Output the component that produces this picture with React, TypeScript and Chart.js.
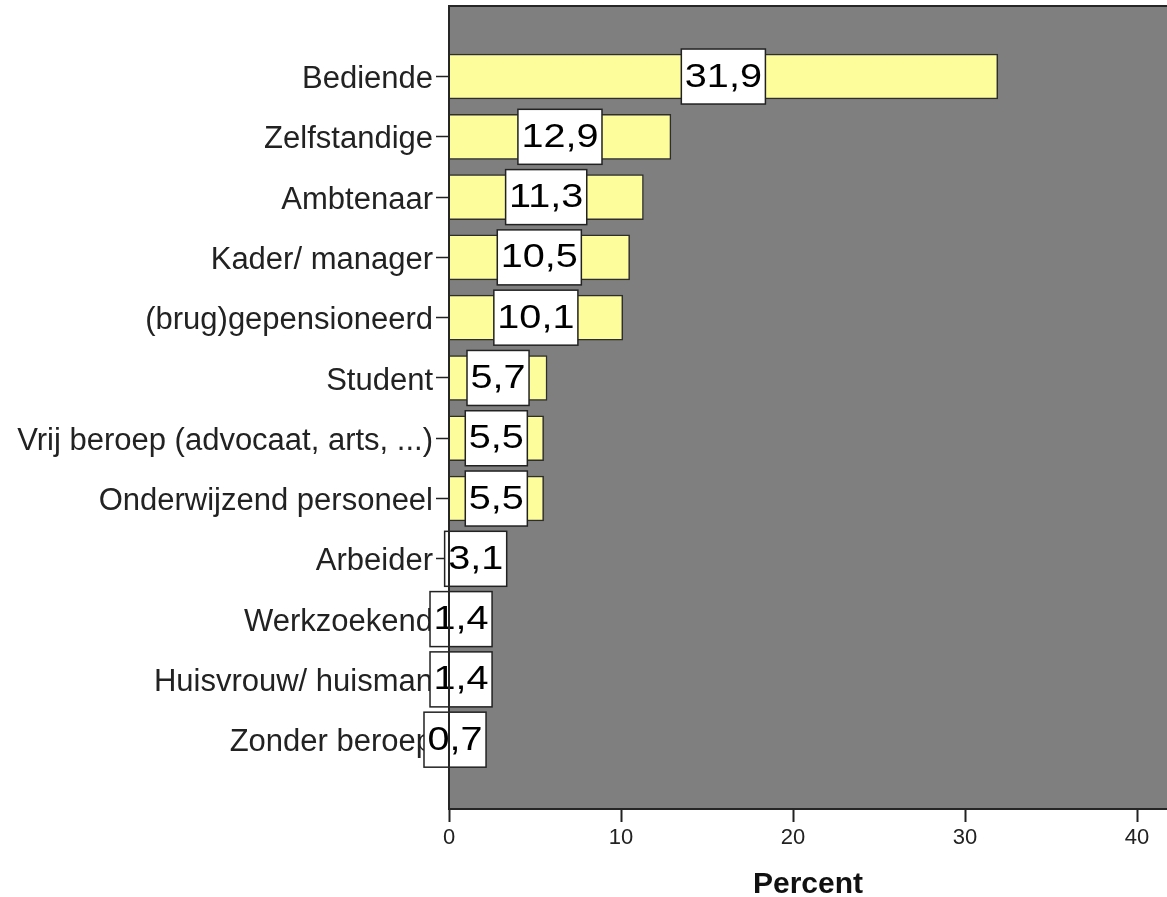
import React, { useEffect, useRef } from 'react';
import { Chart, registerables } from 'chart.js';

Chart.register(...registerables);

const categories = [
  'Bediende',
  'Zelfstandige',
  'Ambtenaar',
  'Kader/ manager',
  '(brug)gepensioneerd',
  'Student',
  'Vrij beroep (advocaat, arts, ...)',
  'Onderwijzend personeel',
  'Arbeider',
  'Werkzoekend',
  'Huisvrouw/ huisman',
  'Zonder beroep',
];
const percents = [31.9, 12.9, 11.3, 10.5, 10.1, 5.7, 5.5, 5.5, 3.1, 1.4, 1.4, 0.7];
const xTickValues = [0, 10, 20, 30, 40];
const xTitle = 'Percent';

const FONT = '"Liberation Sans", Arial, sans-serif';

const spssPlugin = {
  id: 'spssStyle',
  beforeDraw(chart: any) {
    const { ctx, chartArea } = chart;
    ctx.save();
    ctx.fillStyle = '#7f7f7f';
    ctx.fillRect(chartArea.left, chartArea.top, chartArea.right - chartArea.left, chartArea.bottom - chartArea.top);
    ctx.restore();
  },
  afterDatasetsDraw(chart: any) {
    const { ctx } = chart;
    const meta = chart.getDatasetMeta(0);
    const xScale = chart.scales.x;
    const sx = 1.2;
    ctx.save();
    ctx.font = `33px ${FONT}`;
    meta.data.forEach((bar: any, i: number) => {
      const v = percents[i];
      const txt = v.toFixed(1).replace('.', ',');
      const cx = (xScale.getPixelForValue(0) + xScale.getPixelForValue(v)) / 2;
      const cy = bar.y;
      const w = ctx.measureText(txt).width * sx + 7;
      const h = 55;
      ctx.fillStyle = '#ffffff';
      ctx.fillRect(cx - w / 2, cy - h / 2, w, h);
      ctx.strokeStyle = '#222222';
      ctx.lineWidth = 1.5;
      ctx.strokeRect(cx - w / 2, cy - h / 2, w, h);
      ctx.save();
      ctx.translate(cx, cy);
      ctx.scale(sx, 1);
      ctx.fillStyle = '#000000';
      ctx.textAlign = 'center';
      ctx.textBaseline = 'middle';
      ctx.fillText(txt, 0, 1);
      ctx.restore();
    });
    ctx.restore();
  },
  afterDraw(chart: any) {
    const { ctx, chartArea } = chart;
    ctx.save();
    ctx.strokeStyle = '#262626';
    ctx.lineWidth = 2;
    ctx.strokeRect(chartArea.left, chartArea.top, chartArea.right - chartArea.left + 4, chartArea.bottom - chartArea.top);
    ctx.restore();
  },
};

export default function App() {
  const canvasRef = useRef<HTMLCanvasElement | null>(null);

  useEffect(() => {
    document.body.style.margin = '0';
    const canvas = canvasRef.current;
    if (!canvas) return;
    const chart = new Chart(canvas, {
      type: 'bar',
      data: {
        datasets: [
          {
            data: percents.map((v, i) => ({ x: v, y: i })),
            backgroundColor: '#fdfd9b',
            borderColor: '#2e2e2e',
            borderWidth: 1.5,
            barThickness: 45,
          },
        ],
      },
      options: {
        indexAxis: 'y',
        animation: false,
        responsive: false,
        layout: { padding: { top: 6, left: 0, right: 0, bottom: 0 } },
        plugins: {
          legend: { display: false },
          tooltip: { enabled: false },
        },
        scales: {
          x: {
            type: 'linear',
            position: 'bottom',
            min: 0,
            max: 41.74,
            offset: false,
            afterBuildTicks: (s: any) => {
              s.ticks = xTickValues.map((v) => ({ value: v }));
            },
            afterFit: (s: any) => {
              s.height = 88;
              s.paddingLeft = 0;
              s.paddingRight = 0;
            },
            grid: {
              offset: false,
              drawOnChartArea: false,
              drawTicks: true,
              tickLength: 13,
              tickColor: '#222222',
              tickWidth: 2,
            },
            border: { display: true, color: '#222222', width: 2 },
            ticks: {
              font: { family: FONT, size: 22 },
              color: '#222222',
              padding: 3,
              autoSkip: false,
              maxRotation: 0,
            },
            title: {
              display: true,
              text: xTitle,
              font: { family: FONT, size: 30, weight: 'bold', lineHeight: 0.7 },
              color: '#111111',
              padding: { top: 0, bottom: 2 },
            },
          },
          y: {
            type: 'linear',
            reverse: true,
            min: -1.17,
            max: 12.15,
            offset: false,
            afterBuildTicks: (s: any) => {
              s.ticks = categories.map((_, i) => ({ value: i }));
            },
            afterFit: (s: any) => {
              s.width = 449;
              s.paddingTop = 0;
              s.paddingBottom = 0;
            },
            grid: {
              offset: false,
              drawOnChartArea: false,
              drawTicks: true,
              tickLength: 13,
              tickColor: '#222222',
              tickWidth: 1.5,
            },
            border: { display: true, color: '#222222', width: 2 },
            ticks: {
              callback: (v: any) => categories[v as number] ?? '',
              font: { family: FONT, size: 31 },
              color: '#222222',
              padding: 3,
              labelOffset: 3,
              autoSkip: false,
            },
          },
        },
      } as any,
      plugins: [spssPlugin],
    });
    return () => chart.destroy();
  }, []);

  return (
    <div style={{ width: 1167, height: 897 }}>
      <canvas ref={canvasRef} width={1167} height={897} style={{ display: 'block' }} />
    </div>
  );
}
